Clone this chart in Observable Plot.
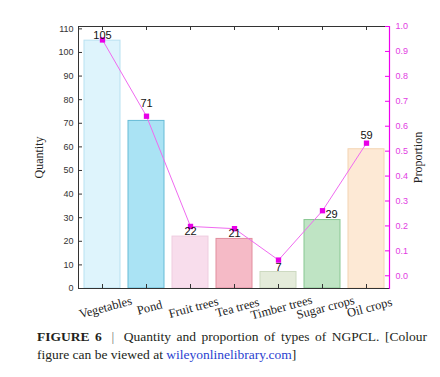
<!DOCTYPE html>
<html>
<head>
<meta charset="utf-8">
<script src="https://cdn.jsdelivr.net/npm/d3@7"></script>
<script src="https://cdn.jsdelivr.net/npm/@observablehq/plot@0.6"></script>
<style>
  html, body { margin: 0; padding: 0; background: #fff; }
  #chart svg { display: block; }
  .cap { font-family: "Liberation Serif", "Times New Roman", serif; font-size: 13.5px; line-height: 17.7px; color: #231f20; width: 390px; margin: 6px 0 0 37px; }
  .l1 { text-align: justify; text-align-last: justify; }
  .sep { color: #777; padding: 0 4px; }
  .link { color: #2a3fd0; }
</style>
</head>
<body>
<div id="chart"></div>
<div class="cap">
  <div class="l1"><b>FIGURE 6</b> <span class="sep">|</span> Quantity and proportion of types of NGPCL. [Colour</div>
  <div>figure can be viewed at <span class="link">wileyonlinelibrary.com</span>]</div>
</div>
<script>
const categories = ["Vegetables", "Pond", "Fruit trees", "Tea trees", "Timber trees", "Sugar crops", "Oil crops"];
const quantity = [105, 71, 22, 21, 7, 29, 59];
const proportion = [0.946, 0.640, 0.198, 0.189, 0.063, 0.261, 0.532];
const quantityTicks = [0, 10, 20, 30, 40, 50, 60, 70, 80, 90, 100, 110];
const proportionTicks = [0.0, 0.1, 0.2, 0.3, 0.4, 0.5, 0.6, 0.7, 0.8, 0.9, 1.0];

const barFills = ["#def4fc", "#aae3f4", "#f8ddec", "#f5bac6", "#e4ebda", "#bfe4c4", "#fde9d5"];
const barStrokes = ["#b8e1f1", "#66bbd6", "#efcde0", "#e28d9e", "#ccd9c0", "#88c792", "#f4d4b2"];

const W = 440, H = 322, ML = 78, MR = 51, MT = 26, MB = 34;
const frameW = W - ML - MR, frameH = H - MT - MB;
const qMax = 111, pMin = -0.051, pMax = 1.0;
const toQ = p => (p - pMin) / (pMax - pMin) * qMax;

const rows = categories.map((c, i) => ({category: c, quantity: quantity[i], proportion: proportion[i], fill: barFills[i], stroke: barStrokes[i]}));

const nudge = {"Pond": [0, -17], "Oil crops": [0, -14], "Sugar crops": [9, -6]};
const labelMarks = rows.map(r => {
  const [dx, dy] = nudge[r.category] || [0, -5];
  return Plot.text([r], {x: "category", y: "quantity", text: d => String(d.quantity), dx, dy,
    fontSize: 11, fill: "#111", fontFamily: "Liberation Sans, Arial, sans-serif"});
});

const serif = "Liberation Serif, Times New Roman, serif";
const magenta = "#f000f0";
const chart = Plot.plot({
  width: W, height: H,
  marginLeft: ML, marginRight: MR, marginTop: MT, marginBottom: MB,
  style: {fontFamily: "Liberation Sans, Arial, sans-serif", fontSize: "9px", background: "#fff", overflow: "visible"},
  x: {domain: categories, paddingInner: 0.19, paddingOuter: 0.095, axis: null},
  y: {domain: [0, qMax], axis: null},
  color: {type: "identity"},
  marks: [
    Plot.barY(rows, {x: "category", y: "quantity", fill: "fill", stroke: "stroke", strokeWidth: 1}),
    Plot.frame({stroke: "#333", strokeWidth: 1}),
    Plot.frame({anchor: "right", stroke: magenta, strokeWidth: 1.2}),
    // inward ticks
    Plot.ruleY(quantityTicks, {y: d => d, insetRight: frameW - 4, stroke: "#333"}),
    Plot.ruleY(proportionTicks, {y: toQ, insetLeft: frameW - 4, stroke: magenta}),
    Plot.ruleX(categories, {x: d => d, insetTop: frameH - 4, stroke: "#333"}),
    Plot.ruleX(categories, {x: d => d, insetBottom: frameH - 4, stroke: "#333"}),
    // tick labels
    Plot.text(quantityTicks, {y: d => d, frameAnchor: "left", dx: -5, textAnchor: "end", lineAnchor: "middle", text: d => String(d), fill: "#333", fontSize: 9}),
    Plot.text(proportionTicks, {y: toQ, frameAnchor: "right", dx: 6, textAnchor: "start", lineAnchor: "middle", text: d => d.toFixed(1), fill: "#e23ce2", fontSize: 9}),
    Plot.text(categories, {x: d => d, frameAnchor: "bottom", dy: 19, dx: 3, rotate: -15, text: d => d,
      textAnchor: "middle", lineAnchor: "middle", fontFamily: serif, fontSize: 12.5, fill: "#222"}),
    // axis titles
    Plot.text(["Quantity"], {frameAnchor: "left", dx: -39, rotate: -90, text: d => d,
      textAnchor: "middle", lineAnchor: "middle", fontFamily: serif, fontSize: 12, fill: "#222"}),
    Plot.text(["Proportion"], {frameAnchor: "right", dx: 29, rotate: -90, text: d => d,
      textAnchor: "middle", lineAnchor: "middle", fontFamily: serif, fontSize: 12, fill: "#222"}),
    // proportion line
    Plot.line(rows, {x: "category", y: d => toQ(d.proportion), stroke: "#f06af0", strokeWidth: 1}),
    Plot.dot(rows, {x: "category", y: d => toQ(d.proportion), symbol: "square", r: 3, fill: "#e800e8", stroke: "none"}),
    ...labelMarks
  ]
});
document.getElementById("chart").appendChild(chart);
</script>
</body>
</html>
